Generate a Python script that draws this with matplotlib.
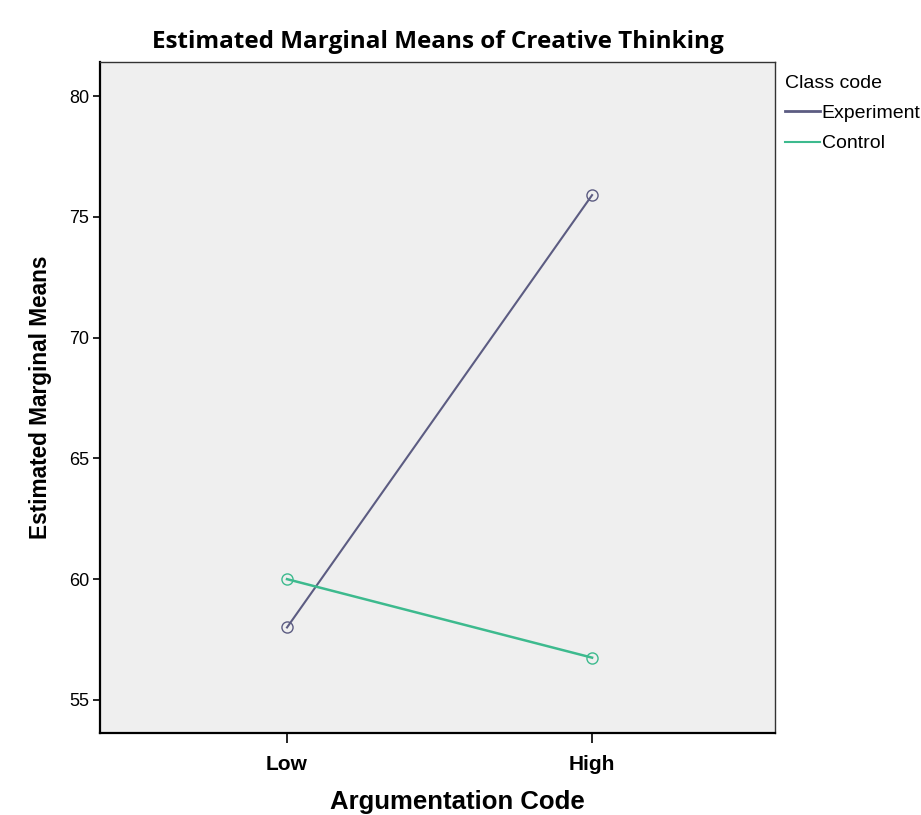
import numpy as np
import matplotlib.pyplot as plt
from matplotlib.lines import Line2D

# --- data ---
levels = ["Low", "High"]
experiment = [58.0, 75.9]
control = [60.0, 56.75]
y_ticks = [55, 60, 65, 70, 75, 80]

c_exp = "#5c5c82"
c_ctl = "#3dba8e"

fig = plt.figure(figsize=(9.21, 8.15), dpi=100)
ax = fig.add_axes([0.1086, 0.1006, 0.7330, 0.8233])
ax.set_facecolor("#efefef")

x = np.arange(1, len(levels) + 1)
ax.plot(x, experiment, color=c_exp, lw=1.5, marker="o", ms=8,
        mfc="none", mec=c_exp, mew=1.0)
ax.plot(x, control, color=c_ctl, lw=1.8, marker="o", ms=8,
        mfc="none", mec=c_ctl, mew=1.0)

ax.set_xlim(0.387, 2.6)
ax.set_ylim(53.63, 81.41)
ax.set_xticks(x)
ax.set_xticklabels(levels, fontfamily="Liberation Sans", fontweight="bold", fontsize=15)
ax.set_yticks(y_ticks)
ax.set_yticklabels([str(v) for v in y_ticks], fontfamily="Liberation Sans", fontsize=13)
ax.tick_params(axis="y", length=5, width=1.2, pad=3)
ax.tick_params(axis="x", length=7, width=1.2, pad=9)

for side in ["left", "bottom"]:
    ax.spines[side].set_linewidth(1.6)
for side in ["top", "right"]:
    ax.spines[side].set_linewidth(1.0)
    ax.spines[side].set_color("#333333")

ax.set_xlabel("Argumentation Code", fontfamily="Liberation Sans",
              fontweight="bold", fontsize=18.5)
ax.xaxis.set_label_coords(0.53, -0.085)
ax.set_ylabel("Estimated Marginal Means", fontfamily="Liberation Sans",
              fontweight="bold", fontsize=16.3, labelpad=12)
ax.set_title("Estimated Marginal Means of Creative Thinking",
             fontfamily="Open Sans", fontweight="bold", fontsize=17.5, pad=10)

# legend
handles = [Line2D([0], [0], color=c_exp, lw=2),
           Line2D([0], [0], color=c_ctl, lw=1.5)]
leg = fig.legend(handles, ["Experiment", "Control"], title="Class code",
                 loc="upper left", bbox_to_anchor=(0.852, 0.908),
                 frameon=False, handlelength=1.8, handletextpad=0.1,
                 labelspacing=0.65, borderaxespad=0, borderpad=0,
                 prop={"family": "Liberation Sans", "size": 14})
leg.get_title().set_fontfamily("Liberation Sans")
leg.get_title().set_fontsize(14)
leg._legend_box.align = "left"

fig.savefig("out.png", dpi=100)
